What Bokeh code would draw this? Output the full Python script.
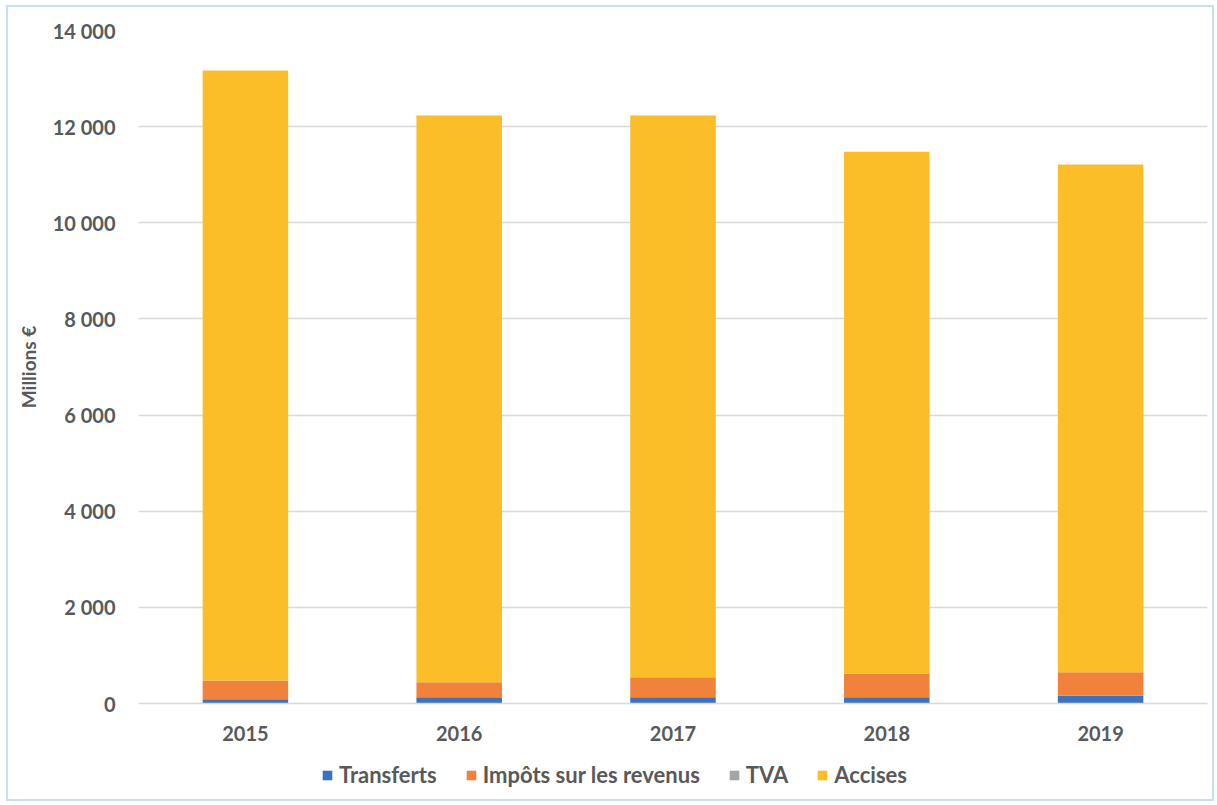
from bokeh.plotting import figure
from bokeh.layouts import column
from bokeh.models import ColumnDataSource, Legend, LegendItem, CustomJSTickFormatter, FixedTicker, Range1d
from bokeh.embed import file_html
from bokeh.resources import INLINE

years = ["2015", "2016", "2017", "2018", "2019"]
transferts = [90, 130, 130, 130, 160]
impots = [390, 313, 417, 488, 491]
tva = [0, 0, 0, 0, 0]
accises = [12690, 11787, 11683, 10862, 10559]

series = ["Transferts", "Impôts sur les revenus", "TVA", "Accises"]
keys = ["transferts", "impots", "tva", "accises"]
colors = ["#3C73BE", "#F0823C", "#A5A5A5", "#FCBE28"]

source = ColumnDataSource(dict(years=years, transferts=transferts, impots=impots, tva=tva, accises=accises))

FONT = "Lato"
GREY = "#595959"

p = figure(x_range=years, y_range=(0, 14000), width=1204, height=745,
           output_backend="svg", toolbar_location=None,
           min_border_left=130, min_border_right=5, min_border_top=23, min_border_bottom=49)

renderers = p.vbar_stack(keys, x="years", width=0.4, color=colors, source=source, line_color=None)

p.outline_line_color = None
p.background_fill_color = "white"
p.border_fill_color = "white"

p.xgrid.grid_line_color = None
p.ygrid.grid_line_color = "#D9D9D9"
p.ygrid.grid_line_width = 1.3

p.yaxis.ticker = FixedTicker(ticks=list(range(0, 14001, 2000)))
p.yaxis.formatter = CustomJSTickFormatter(code="return tick == 0 ? '0' : (Math.floor(tick/1000) + ' ' + String(tick % 1000).padStart(3, '0'));")
p.yaxis.axis_line_color = None
p.yaxis.major_tick_line_color = None
p.yaxis.minor_tick_line_color = None
p.yaxis.major_label_standoff = 17
p.yaxis.axis_label = "Millions €"
p.yaxis.axis_label_standoff = 10

p.xaxis.axis_line_color = "#D9D9D9"
p.xaxis.axis_line_width = 1.3
p.xaxis.major_tick_line_color = None
p.xaxis.minor_tick_line_color = None
p.xaxis.major_label_standoff = 16

for ax in (p.xaxis[0], p.yaxis[0]):
    ax.major_label_text_font = FONT
    ax.major_label_text_font_style = "bold"
    ax.major_label_text_color = GREY
    ax.major_label_text_font_size = "20px"
    ax.axis_label_text_font = FONT
    ax.axis_label_text_font_style = "bold"
    ax.axis_label_text_color = GREY
    ax.axis_label_text_font_size = "19px"

# legend strip below the chart
lf = figure(width=1204, height=47, output_backend="svg", toolbar_location=None,
            x_axis_type=None, y_axis_type=None, x_range=Range1d(0, 1), y_range=Range1d(0, 1),
            min_border=0, min_border_left=0, min_border_right=0, min_border_top=0, min_border_bottom=0)
lf.outline_line_color = None
lf.grid.grid_line_color = None
lf.border_fill_color = "white"

# swatch renderers kept outside the visible range, used only for the legend keys
dummies = [lf.vbar(x=[-5], top=[-5], bottom=[-6], width=0.1, color=c, line_color=None) for c in colors]
items = [LegendItem(label=s, renderers=[r]) for s, r in zip(series, dummies)]
legend = Legend(items=items, orientation="horizontal", location=(183, 11),
                glyph_width=12, glyph_height=12, label_standoff=6, spacing=28,
                label_text_font=FONT, label_text_font_style="bold", label_text_color=GREY,
                label_text_font_size="22px", border_line_color=None, background_fill_alpha=0,
                padding=0, margin=0)
lf.add_layout(legend, "center")

layout = column(p, lf, spacing=0)
layout.styles = {"margin-top": "5px", "margin-left": "6px", "border": "2px solid #C7E1EA",
                 "background-color": "white"}

open("out.html", "w").write(file_html(layout, INLINE))
